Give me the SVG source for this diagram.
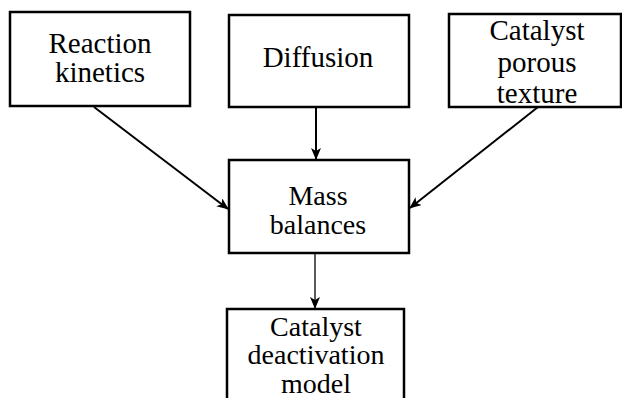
<svg xmlns="http://www.w3.org/2000/svg" width="622" height="398" viewBox="0 0 622 398">
<defs>
<style>
.box{fill:#fff;stroke:#000;stroke-width:2.5}
.t{font-family:"Liberation Serif","Times New Roman",serif;font-size:29px;fill:#000;text-anchor:middle}
.s{font-size:28px}
.c{fill:none;stroke:#000;stroke-width:2}
.thin{stroke-width:1.3}
</style>
<marker id="ah" viewBox="0 0 12 10" refX="11" refY="5" markerWidth="12" markerHeight="10" markerUnits="userSpaceOnUse" orient="auto">
<path d="M0,0 L12,5 L0,10 L3,5 Z" fill="#000"/>
</marker>
</defs>
<g id="connectors">
<line class="c" x1="94" y1="107" x2="228" y2="209" marker-end="url(#ah)"/>
<line class="c" x1="316" y1="107" x2="316" y2="159" marker-end="url(#ah)"/>
<line class="c" x1="538" y1="107" x2="410" y2="208" marker-end="url(#ah)"/>
<line class="c thin" x1="315" y1="253" x2="315" y2="308" marker-end="url(#ah)"/>
</g>
<g id="reaction-kinetics">
<rect class="box" x="10" y="12" width="180" height="94"/>
<text class="t" x="100" y="53">Reaction</text>
<text class="t" x="100" y="82">kinetics</text>
</g>
<g id="diffusion">
<rect class="box" x="229" y="15" width="180" height="92"/>
<text class="t" x="318" y="67">Diffusion</text>
</g>
<g id="catalyst-porous-texture">
<rect class="box" x="449" y="14" width="172" height="93"/>
<text class="t" x="537" y="40">Catalyst</text>
<text class="t" x="537" y="72">porous</text>
<text class="t" x="537" y="103">texture</text>
</g>
<g id="mass-balances">
<rect class="box" x="229" y="160" width="180" height="93"/>
<text class="t s" x="318" y="205">Mass</text>
<text class="t s" x="318" y="234">balances</text>
</g>
<g id="catalyst-deactivation-model">
<rect class="box" x="227" y="309" width="177" height="100"/>
<text class="t s" x="316" y="336">Catalyst</text>
<text class="t s" x="316" y="364">deactivation</text>
<text class="t s" x="316" y="393">model</text>
</g>
</svg>
